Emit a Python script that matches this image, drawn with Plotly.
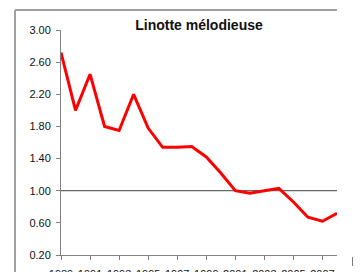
import plotly.graph_objects as go

years = list(range(1989, 2009))
values = [2.72, 2.00, 2.45, 1.80, 1.75, 2.20, 1.78, 1.54, 1.54, 1.55,
          1.42, 1.22, 1.00, 0.97, 1.00, 1.03, 0.86, 0.67, 0.62, 0.72]
y_ticks = [0.20, 0.60, 1.00, 1.40, 1.80, 2.20, 2.60, 3.00]
x_ticks = list(range(1989, 2009, 2))
title_text = "Linotte mélodieuse"

FONT = "Liberation Sans, Arial, sans-serif"

# the page body has an 8px margin; compensate so screen coordinates match
OFF = 8
W, H = 361 - OFF, 272 - OFF
L, T = 61 - OFF, 30 - OFF
R = W - (337 - OFF)
B = H - (255 - OFF)
pw, ph = W - L - R, H - T - B

def px_x(px):  # screen px -> paper
    return (px - OFF - L) / pw

def px_y(py):
    return (H - B - (py - OFF)) / ph

fig = go.Figure()
fig.add_trace(go.Scatter(x=years, y=values, mode="lines",
                         line=dict(color="#ff0000", width=3), hoverinfo="skip"))

fig.update_layout(
    width=W, height=H,
    margin=dict(l=L, r=R, t=T, b=B, autoexpand=False),
    paper_bgcolor="white", plot_bgcolor="white",
    showlegend=False,
    title=dict(text="<b>" + title_text + "</b>", x=0.5, xref="paper",
               y=1 - (25 - OFF) / H, yref="container", xanchor="center", yanchor="middle",
               font=dict(family=FONT, size=14, color="#111")),
    xaxis=dict(range=[1989, 2008], tickvals=x_ticks, showgrid=False, zeroline=False,
               showline=True, linecolor="#808080", linewidth=1,
               ticks="outside", ticklen=4, tickcolor="#808080", ticklabelstandoff=5,
               tickfont=dict(family=FONT, size=11, color="#111"), automargin=False),
    yaxis=dict(range=[0.2, 3.0], tickvals=y_ticks, tickformat=".2f", showgrid=False,
               zeroline=False, showline=True, linecolor="#808080", linewidth=1,
               ticks="outside", ticklen=4, tickcolor="#808080", ticklabelstandoff=3,
               tickfont=dict(family=FONT, size=11, color="#111"), automargin=False),
)

# reference line at 1.00
fig.add_shape(type="line", xref="paper", yref="y", x0=0, x1=1, y0=1.0, y1=1.0,
              line=dict(color="#404040", width=1), layer="below")

# chart frame (left and top edges)
fig.add_shape(type="line", xref="paper", yref="paper",
              x0=px_x(15), x1=px_x(15), y0=px_y(10), y1=px_y(290),
              line=dict(color="#a0a0a0", width=2))
fig.add_shape(type="line", xref="paper", yref="paper",
              x0=px_x(15), x1=px_x(337), y0=px_y(10), y1=px_y(10),
              line=dict(color="#a0a0a0", width=2))
# small bracket mark at lower right
fig.add_shape(type="line", xref="paper", yref="paper",
              x0=px_x(353), x1=px_x(353), y0=px_y(257), y1=px_y(266),
              line=dict(color="#505050", width=1.5))
fig.add_shape(type="line", xref="paper", yref="paper",
              x0=px_x(353), x1=px_x(358), y0=px_y(266), y1=px_y(266),
              line=dict(color="#505050", width=1.5))

fig.write_html("out.html")
